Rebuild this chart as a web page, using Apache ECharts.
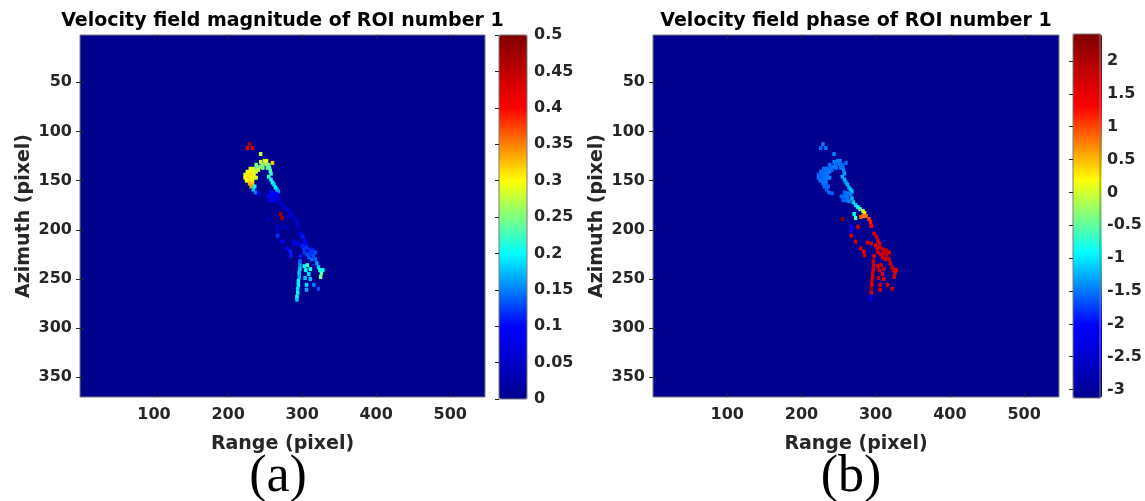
<!DOCTYPE html>
<html>
<head>
<meta charset="utf-8">
<script src="https://cdn.jsdelivr.net/npm/echarts@6/dist/echarts.min.js"></script>
<style>
html,body{margin:0;padding:0;background:#fff;}
#chart{width:1145px;height:501px;}
</style>
</head>
<body>
<div id="chart"></div>
<script>
// ---- data ----
const rangeTicks = [100, 200, 300, 400, 500];
const azimuthTicks = [50, 100, 150, 200, 250, 300, 350];
const magnitudeTicks = [0, 0.05, 0.1, 0.15, 0.2, 0.25, 0.3, 0.35, 0.4, 0.45, 0.5];
const phaseTicks = [-3, -2.5, -2, -1.5, -1, -0.5, 0, 0.5, 1, 1.5, 2];
const magnitudeLimits = [0, 0.5];
const phaseLimits = [-3.13, 2.41];
const rangeLimits = [0, 547];
const azimuthLimits = [2, 370];

// ROI pixels: range (x), azimuth (y), velocity magnitude, velocity phase
const roiRange = [229,226,233,244,249,252,251,246,243,239,236,241,247,255,256,257,260,258,
  230,234,226,230,234,238,223,227,231,235,223,227,231,235,238,225,229,233,229,233,231,234,237,241,
  255,258,260,262,264,266,268,
  258,262,266,254,258,262,256,260,264,
  268,270,273,276,279,283,285,283,280,287,291,293,294,
  271,273,255,267,267,
  267,276,298,301,303,305,273,280,285,289,294,302,306,310,314,318,303,307,311,315,298,284,
  318,320,322,324,326,328,325,297,297,297,296,296,295,295,294,294,293,293,
  303,307,311,305,309,304,311,306,316,322,306,
  313,300,309,244,238,253,236];
const roiAzimuth = [113,117,117,123,130,130,133,134,136,137,139,139,137,134,137,140,132,143,
  138,138,141,141,141,141,144,144,144,144,147,147,147,147,147,150,150,150,153,153,156,159,162,163,
  146,149,152,154,157,159,161,
  162,163,164,166,166,167,170,170,171,
  168,172,175,177,179,181,183,186,187,186,189,192,196,
  184,188,189,197,201,
  206,197,204,207,211,214,212,219,226,213,214,219,218,220,221,223,223,225,224,226,227,222,
  230,234,238,241,244,241,248,232,236,240,244,248,252,256,260,264,268,271,
  237,236,240,241,245,249,250,256,256,260,261,
  230,216,228,131,134,137,156];
const magnitude = [0.47,0.42,0.43,0.27,0.28,0.30,0.27,0.26,0.25,0.24,0.26,0.27,0.25,0.24,0.24,0.23,0.32,0.22,
  0.29,0.28,0.29,0.30,0.29,0.28,0.29,0.30,0.31,0.29,0.30,0.31,0.30,0.29,0.28,0.30,0.31,0.29,0.33,0.32,0.34,0.18,0.15,0.10,
  0.22,0.20,0.21,0.19,0.20,0.18,0.16,
  0.10,0.09,0.10,0.08,0.10,0.09,0.08,0.08,0.07,
  0.07,0.06,0.06,0.05,0.05,0.06,0.05,0.06,0.05,0.06,0.05,0.06,0.06,
  0.48,0.47,0.04,0.05,0.05,
  0.12,0.06,0.10,0.11,0.10,0.10,0.10,0.09,0.11,0.09,0.10,0.12,0.12,0.11,0.12,0.13,0.12,0.13,0.12,0.13,0.11,0.11,
  0.14,0.16,0.18,0.22,0.24,0.20,0.25,0.14,0.16,0.18,0.18,0.17,0.20,0.20,0.19,0.20,0.21,0.18,
  0.20,0.22,0.21,0.20,0.19,0.18,0.18,0.19,0.15,0.13,0.17,
  0.14,0.11,0.13,0.27,0.25,0.24,0.20];
const phase = [-1.50,-1.55,-1.50,-1.45,-1.50,-1.45,-1.50,-1.55,-1.50,-1.55,-1.50,-1.55,-1.50,-1.60,-1.50,-1.45,-1.55,-1.35,
  -1.55,-1.50,-1.55,-1.60,-1.55,-1.50,-1.60,-1.55,-1.55,-1.50,-1.55,-1.60,-1.55,-1.50,-1.45,-1.55,-1.55,-1.50,-1.55,-1.50,-1.55,-1.60,-1.55,-1.60,
  -1.30,-1.25,-1.30,-1.25,-1.30,-1.20,-1.15,
  -1.55,-1.50,-1.45,-1.60,-1.55,-1.50,-1.60,-1.55,-1.45,
  -1.20,-1.10,-1.05,-0.90,-0.60,-0.10,0.30,0.70,0.90,0.80,1.00,1.20,1.30,
  -0.90,-0.50,2.30,-2.00,-2.10,
  1.55,1.60,1.65,1.60,1.65,1.55,1.65,1.60,1.65,1.55,1.68,1.65,1.60,1.65,1.68,1.55,1.60,1.65,1.68,1.65,1.55,1.50,
  1.65,1.60,1.65,1.68,1.55,1.60,1.65,1.68,1.65,1.60,1.65,1.68,1.65,1.60,2.30,1.65,-2.20,-2.30,
  1.65,1.60,1.65,1.68,1.55,1.65,1.60,1.65,1.60,1.65,1.55,
  1.62,1.58,1.65,-1.50,-1.55,-1.50,-1.55];

// ---- styling ----
const jet = ['#00008F','#0000FF','#00FFFF','#FFFF00','#FF0000','#800000'];
const FONT = 'DejaVu Sans';
const TXT = '#262626';
const BOX = '#7a7a7a';
const BG = '#00008F';

const magData = roiRange.map((x, i) => [x, roiAzimuth[i], magnitude[i]]);
const phaseData = roiRange.map((x, i) => [x, roiAzimuth[i], phase[i]]);

const P1 = {left: 80, top: 35, width: 405, height: 362};
const C1 = {left: 499, top: 35, width: 28, height: 364};
const P2 = {left: 653, top: 35, width: 406, height: 362};
const C2 = {left: 1073, top: 34, width: 29, height: 364};

function plotGrid(g) {
  return Object.assign({show: true, backgroundColor: BG, borderColor: BOX, borderWidth: 1, containLabel: false}, g);
}
function barGrid(g) {
  return Object.assign({show: true, backgroundColor: 'transparent', borderColor: BOX, borderWidth: 1, z: 5, containLabel: false}, g);
}
const labelStyle = {color: TXT, fontFamily: FONT, fontWeight: 'bold', fontSize: 16};
const nameStyle = {color: TXT, fontFamily: FONT, fontWeight: 'bold', fontSize: 19};

function rangeAxis(gi, pos, withLabels) {
  return {
    type: 'value', gridIndex: gi, position: pos, min: rangeLimits[0], max: rangeLimits[1],
    name: withLabels ? 'Range (pixel)' : '', nameLocation: 'middle', nameGap: 38, nameTextStyle: nameStyle,
    axisLine: {show: false}, splitLine: {show: false},
    axisTick: {show: true, inside: true, length: 4, lineStyle: {color: TXT}, customValues: rangeTicks},
    axisLabel: Object.assign({show: withLabels, margin: 10, customValues: rangeTicks}, labelStyle),
    z: 3
  };
}
function azimuthAxis(gi, pos, withLabels) {
  return {
    type: 'value', gridIndex: gi, position: pos, inverse: true, min: azimuthLimits[0], max: azimuthLimits[1],
    name: withLabels ? 'Azimuth (pixel)' : '', nameLocation: 'middle', nameGap: 46, nameRotate: 90, nameTextStyle: nameStyle,
    axisLine: {show: false}, splitLine: {show: false},
    axisTick: {show: true, inside: true, length: 4, lineStyle: {color: TXT}, customValues: azimuthTicks},
    axisLabel: Object.assign({show: withLabels, margin: 8, customValues: azimuthTicks}, labelStyle),
    z: 3
  };
}
function barXAxis(gi) {
  return {type: 'value', gridIndex: gi, min: 0, max: 1, show: false};
}
function barYAxis(gi, lim, ticks) {
  return {
    type: 'value', gridIndex: gi, position: 'right', min: lim[0], max: lim[1],
    axisLine: {show: false}, splitLine: {show: false},
    axisTick: {show: true, inside: true, length: 4, lineStyle: {color: TXT}, customValues: ticks},
    axisLabel: Object.assign({margin: 7, align: 'left', customValues: ticks}, labelStyle),
    z: 6
  };
}

const option = {
  animation: false,
  backgroundColor: '#fff',
  grid: [plotGrid(P1), barGrid(C1), plotGrid(P2), barGrid(C2)],
  xAxis: [rangeAxis(0, 'bottom', true), rangeAxis(0, 'top', false), barXAxis(1),
          rangeAxis(2, 'bottom', true), rangeAxis(2, 'top', false), barXAxis(3)],
  yAxis: [azimuthAxis(0, 'left', true), azimuthAxis(0, 'right', false), barYAxis(1, magnitudeLimits, magnitudeTicks),
          azimuthAxis(2, 'left', true), azimuthAxis(2, 'right', false), barYAxis(3, phaseLimits, phaseTicks)],
  visualMap: [
    {type: 'continuous', seriesIndex: 0, dimension: 2, min: magnitudeLimits[0], max: magnitudeLimits[1],
     orient: 'vertical', left: C1.left, top: C1.top, itemWidth: C1.width, itemHeight: C1.height,
     padding: 0, calculable: false, realtime: false, hoverLink: false, z: 1,
     textStyle: {color: 'transparent'}, text: null,
     inRange: {color: jet}},
    {type: 'continuous', seriesIndex: 1, dimension: 2, min: phaseLimits[0], max: phaseLimits[1],
     orient: 'vertical', left: C2.left, top: C2.top, itemWidth: C2.width, itemHeight: C2.height,
     padding: 0, calculable: false, realtime: false, hoverLink: false, z: 1,
     textStyle: {color: 'transparent'}, text: null,
     inRange: {color: jet}}
  ],
  series: [
    {type: 'scatter', xAxisIndex: 0, yAxisIndex: 0, data: magData, symbol: 'rect', symbolSize: [3.5, 4],
     itemStyle: {opacity: 1}, z: 2, silent: true},
    {type: 'scatter', xAxisIndex: 3, yAxisIndex: 3, data: phaseData, symbol: 'rect', symbolSize: [3.5, 4],
     itemStyle: {opacity: 1}, z: 2, silent: true}
  ],
  graphic: [
    {type: 'text', x: P1.left + P1.width / 2, y: 21, style: {text: 'Velocity field magnitude of ROI number 1',
      font: 'bold 19px "DejaVu Sans"', fill: '#000', align: 'center', verticalAlign: 'middle', textAlign: 'center', textVerticalAlign: 'middle'}},
    {type: 'text', x: P2.left + P2.width / 2, y: 21, style: {text: 'Velocity field phase of ROI number 1',
      font: 'bold 19px "DejaVu Sans"', fill: '#000', align: 'center', verticalAlign: 'middle', textAlign: 'center', textVerticalAlign: 'middle'}},
    {type: 'text', x: 278, y: 477, style: {text: '(a)', font: '52px "Liberation Serif"', fill: '#000',
      align: 'center', verticalAlign: 'middle', textAlign: 'center', textVerticalAlign: 'middle'}},
    {type: 'text', x: 851, y: 477, style: {text: '(b)', font: '52px "Liberation Serif"', fill: '#000',
      align: 'center', verticalAlign: 'middle', textAlign: 'center', textVerticalAlign: 'middle'}}
  ]
};

const chart = echarts.init(document.getElementById('chart'), null, {renderer: 'canvas'});
chart.setOption(option);
</script>
</body>
</html>
